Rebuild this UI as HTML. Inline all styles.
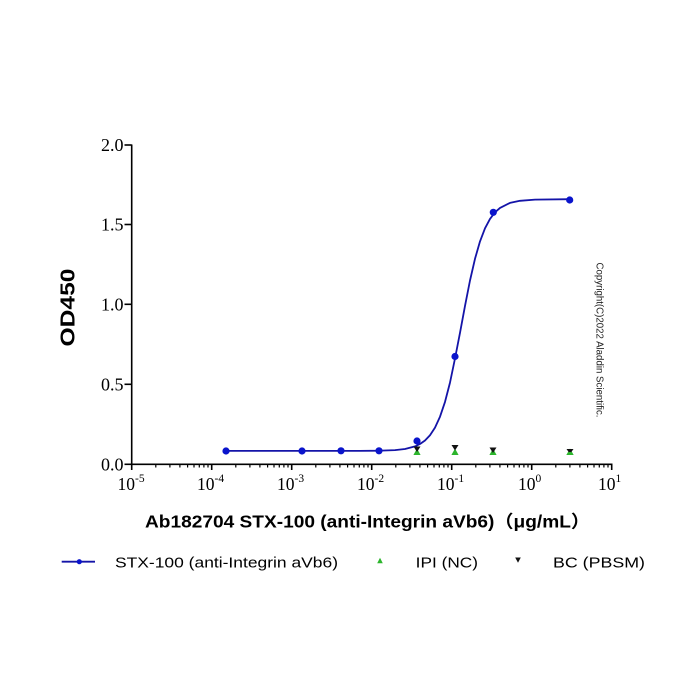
<!DOCTYPE html>
<html>
<head>
<meta charset="utf-8">
<style>
html,body{margin:0;padding:0;background:#fff;}
svg{display:block;}
</style>
</head>
<body>
<svg width="700" height="700" viewBox="0 0 700 700" xmlns="http://www.w3.org/2000/svg">
<rect width="700" height="700" fill="#fff"/>

<!-- axes -->
<g stroke="#000" stroke-width="1.6" fill="none">
  <line x1="131.7" y1="144.5" x2="131.7" y2="465"/>
  <line x1="131" y1="464.3" x2="612.5" y2="464.3"/>
  <!-- y ticks -->
  <line x1="124.5" y1="145" x2="131.7" y2="145"/>
  <line x1="124.5" y1="224.5" x2="131.7" y2="224.5"/>
  <line x1="124.5" y1="304.3" x2="131.7" y2="304.3"/>
  <line x1="124.5" y1="384.3" x2="131.7" y2="384.3"/>
  <line x1="124.5" y1="464.3" x2="131.7" y2="464.3"/>
  <!-- x major ticks -->
  <line x1="131.7" y1="464" x2="131.7" y2="470"/>
  <line x1="211.7" y1="464" x2="211.7" y2="470"/>
  <line x1="291.7" y1="464" x2="291.7" y2="470"/>
  <line x1="371.7" y1="464" x2="371.7" y2="470"/>
  <line x1="451.7" y1="464" x2="451.7" y2="470"/>
  <line x1="531.7" y1="464" x2="531.7" y2="470"/>
  <line x1="611.7" y1="464" x2="611.7" y2="470"/>
</g>
<!-- minor ticks -->
<g stroke="#000" stroke-width="1.2">
  <path d="
  M155.8 464v3.5 M169.9 464v3.5 M179.9 464v3.5 M187.6 464v3.5 M194 464v3.5 M199.3 464v3.5 M203.9 464v3.5 M208 464v3.5
  M235.8 464v3.5 M249.9 464v3.5 M259.9 464v3.5 M267.6 464v3.5 M274 464v3.5 M279.3 464v3.5 M283.9 464v3.5 M288 464v3.5
  M315.8 464v3.5 M329.9 464v3.5 M339.9 464v3.5 M347.6 464v3.5 M354 464v3.5 M359.3 464v3.5 M363.9 464v3.5 M368 464v3.5
  M395.8 464v3.5 M409.9 464v3.5 M419.9 464v3.5 M427.6 464v3.5 M434 464v3.5 M439.3 464v3.5 M443.9 464v3.5 M448 464v3.5
  M475.8 464v3.5 M489.9 464v3.5 M499.9 464v3.5 M507.6 464v3.5 M514 464v3.5 M519.3 464v3.5 M523.9 464v3.5 M528 464v3.5
  M555.8 464v3.5 M569.9 464v3.5 M579.9 464v3.5 M587.6 464v3.5 M594 464v3.5 M599.3 464v3.5 M603.9 464v3.5 M608 464v3.5"/>
</g>

<!-- y tick labels -->
<g font-family="Liberation Serif, serif" font-size="18" fill="#000" text-anchor="end">
  <text x="123.5" y="151">2.0</text>
  <text x="123.5" y="230.5">1.5</text>
  <text x="123.5" y="310.3">1.0</text>
  <text x="123.5" y="390.3">0.5</text>
  <text x="123.5" y="470.3">0.0</text>
</g>

<!-- x tick labels -->
<g font-family="Liberation Serif, serif" font-size="17.5" fill="#000">
  <text x="117.5" y="490">10<tspan dy="-8" font-size="11.5">-5</tspan></text>
  <text x="197" y="490">10<tspan dy="-8" font-size="11.5">-4</tspan></text>
  <text x="277" y="490">10<tspan dy="-8" font-size="11.5">-3</tspan></text>
  <text x="357" y="490">10<tspan dy="-8" font-size="11.5">-2</tspan></text>
  <text x="437" y="490">10<tspan dy="-8" font-size="11.5">-1</tspan></text>
  <text x="518" y="490">10<tspan dy="-8" font-size="11.5">0</tspan></text>
  <text x="598" y="490">10<tspan dy="-8" font-size="11.5">1</tspan></text>
</g>

<!-- axis titles -->
<text x="145" y="527.5" font-family="Liberation Sans, 'Noto Sans CJK SC', sans-serif" font-weight="bold" font-size="17.5" fill="#000" textLength="445" lengthAdjust="spacingAndGlyphs">Ab182704 STX-100 (anti-Integrin aVb6)（μg/mL）</text>
<text transform="translate(74.5,307.5) rotate(-90)" text-anchor="middle" font-family="Liberation Sans, sans-serif" font-weight="bold" font-size="20" fill="#000" textLength="78" lengthAdjust="spacingAndGlyphs">OD450</text>

<!-- copyright -->
<text transform="translate(596.5,340) rotate(90)" text-anchor="middle" font-family="Liberation Sans, sans-serif" font-size="9.7" fill="#222" textLength="155" lengthAdjust="spacingAndGlyphs">Copyright(C)2022 Aladdin Scientific.</text>

<!-- fitted curve -->
<polyline fill="none" stroke="#1414a8" stroke-width="1.8" stroke-linejoin="round" stroke-linecap="round"
 points="226,450.9 360,450.9 380,450.7 395,450.1 405,449.0 415,446.4 420,444.0 425,440.5 430,435.2 435,427.6 440,416.7 445,401.9 450,382.6 455,358.5 460,332.8 465,305.9 470,280.5 475,258.8 480,241.4 485,228.3 490,218.9 495,212.3 500,207.9 510,202.9 520,200.8 535,199.6 570,199.2"/>

<!-- data points STX-100 -->
<g fill="#0a14cc">
  <circle cx="226" cy="451" r="3.6"/>
  <circle cx="302" cy="451" r="3.6"/>
  <circle cx="341" cy="450.8" r="3.6"/>
  <circle cx="379" cy="450.8" r="3.6"/>
  <circle cx="417" cy="441" r="3.6"/>
  <circle cx="455" cy="356.5" r="3.6"/>
  <circle cx="493.3" cy="212.3" r="3.6"/>
  <circle cx="569.7" cy="200" r="3.6"/>
</g>

<!-- IPI (NC) green up triangles -->
<g fill="#2cb52c">
  <path d="M417 448.5 L420.6 455 L413.4 455 Z"/>
  <path d="M455 448.5 L458.6 455 L451.4 455 Z"/>
  <path d="M493 448.5 L496.6 455 L489.4 455 Z"/>
  <path d="M570 448.5 L573.6 455 L566.4 455 Z"/>
</g>
<!-- BC (PBSM) black down triangles -->
<g fill="#111">
  <path d="M413.5 446.5 L420.5 446.5 L417 452 Z"/>
  <path d="M451.5 445 L458.5 445 L455 450.5 Z"/>
  <path d="M489.5 447.5 L496.5 447.5 L493 453 Z"/>
  <path d="M566.5 449 L573.5 449 L570 454 Z"/>
</g>
<!-- redraw green bottom on top for overlaps at right -->
<g fill="#2cb52c">
  <path d="M568.2 452 L571.8 452 L573.6 455 L566.4 455 Z"/>
</g>

<!-- legend -->
<line x1="61.7" y1="561.7" x2="95" y2="561.7" stroke="#1414a8" stroke-width="1.8"/>
<circle cx="79.3" cy="561.7" r="2.6" fill="#0a14cc"/>
<text x="115" y="567.3" font-family="Liberation Sans, sans-serif" font-size="15" fill="#000" textLength="223" lengthAdjust="spacingAndGlyphs">STX-100 (anti-Integrin aVb6)</text>

<path d="M380 557.8 L382.8 563.2 L377.2 563.2 Z" fill="#2cb52c"/>
<text x="415.7" y="567.3" font-family="Liberation Sans, sans-serif" font-size="15" fill="#000" textLength="62.3" lengthAdjust="spacingAndGlyphs">IPI (NC)</text>

<path d="M515.2 557.5 L520.8 557.5 L518 562.8 Z" fill="#111"/>
<text x="553" y="567.3" font-family="Liberation Sans, sans-serif" font-size="15" fill="#000" textLength="92" lengthAdjust="spacingAndGlyphs">BC (PBSM)</text>
</svg>
</body>
</html>
